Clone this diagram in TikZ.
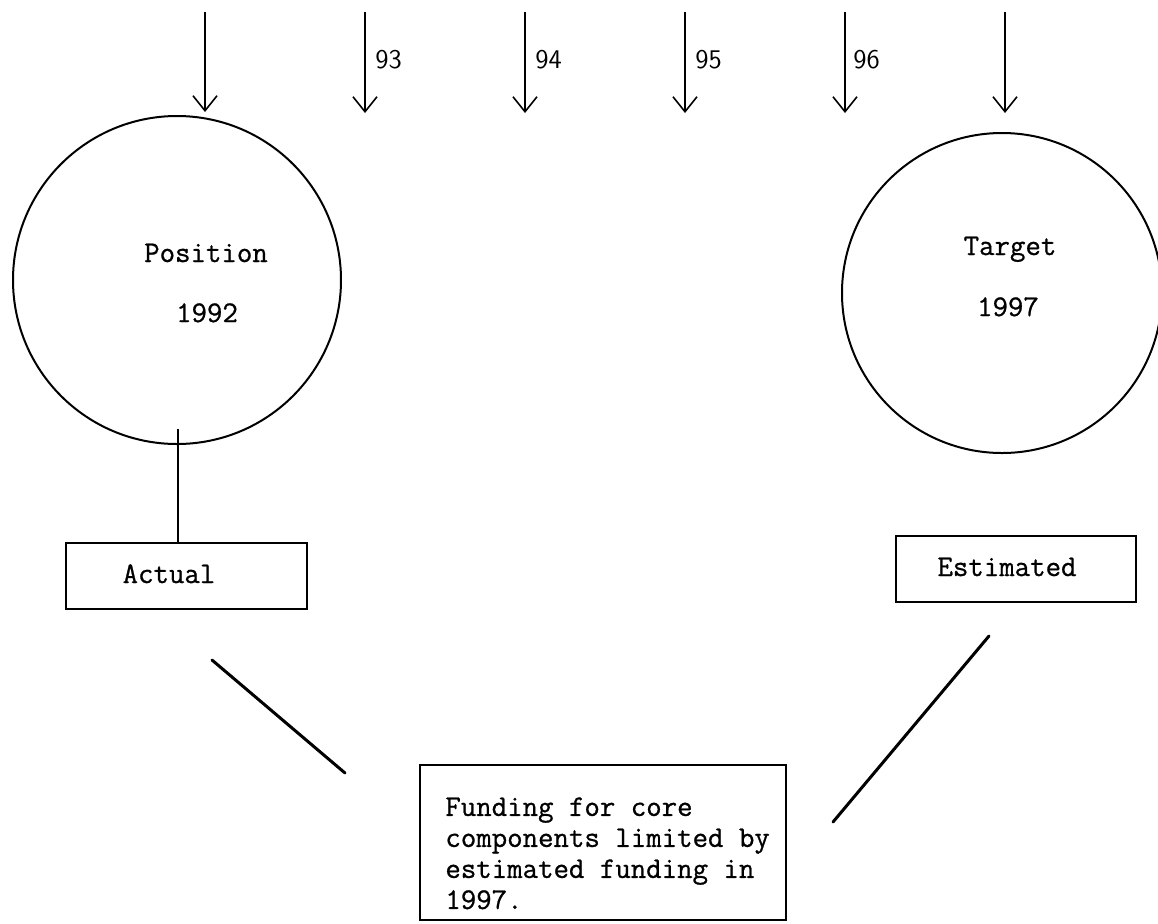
\documentclass[tikz,border=0pt]{standalone}
\usepackage{fontspec}
\newfontfamily\tw[FakeBold=0.8]{Latin Modern Mono}
\usetikzlibrary{arrows.meta}
\begin{document}
\begin{tikzpicture}[x=0.5pt,y=-0.5pt,
  txt/.style={font=\fontsize{15}{15.5}\selectfont\tw, inner sep=0pt},
  num/.style={font=\fontsize{13.5}{14}\selectfont\sffamily, inner sep=0pt, anchor=base west},
  down/.style={-{Straight Barb[length=7.5pt,width=12pt]}, line width=0.8pt},
  ring/.style={circle, draw, line width=1pt, inner sep=0pt},
  boxx/.style={draw, line width=1pt, inner sep=0pt},
  slash/.style={line width=1.5pt, line cap=round}]
\useasboundingbox (0,0) rectangle (1158,923);

% circles
\node[ring, minimum size=164pt] (pos) at (177,280) {};
\node[ring, minimum size=160pt] (tgt) at (1002,293) {};

% top arrows
\coordinate (t1) at (205,12);
\draw[down] (t1) -- ([yshift=1.5pt]t1 |- pos.north);
\foreach \i/\x in {2/365,3/525,4/685,5/845,6/1005} {
  \coordinate (t\i) at (\x,12);
  \coordinate (h\i) at (\x,113);
  \draw[down] (t\i) -- (h\i);
}
\node[num] (l93) at (375,68) {93};
\node[num] (l94) at (535,68) {94};
\node[num] (l95) at (695,68) {95};
\node[num] (l96) at (853,68) {96};

% circle texts
\node[txt, anchor=base] (posA) at (206,262) {Position};
\node[txt, anchor=base] (posB) at (207,322) {1992};
\node[txt, anchor=base] (tgtA) at (1010,255) {Target};
\node[txt, anchor=base] (tgtB) at (1008,316) {1997};

% boxes
\node[boxx, minimum width=120.5pt, minimum height=33pt] (act) at (186.5,576) {};
\node[txt, anchor=base] (actT) at (169,583) {Actual};
\node[boxx, minimum width=120pt, minimum height=33pt] (est) at (1016,569) {};
\node[txt, anchor=base] (estT) at (1007,576) {Estimated};
\coordinate (astart) at (178,429);
\draw[line width=0.8pt] (astart) -- (astart |- act.north);

% bottom box
\node[boxx, minimum width=183pt, minimum height=77.5pt] (fund) at (603,842.5) {};
\node[txt, anchor=north west, align=left] (fundT) at (445,797) {Funding for core\\components limited by\\estimated funding in\\1997.};

% slashes
\coordinate (l1) at (212,660); \coordinate (l2) at (345,773);
\coordinate (r1) at (989,636); \coordinate (r2) at (833,822);
\draw[slash] (l1) -- (l2);
\draw[slash] (r1) -- (r2);
\end{tikzpicture}
\end{document}
